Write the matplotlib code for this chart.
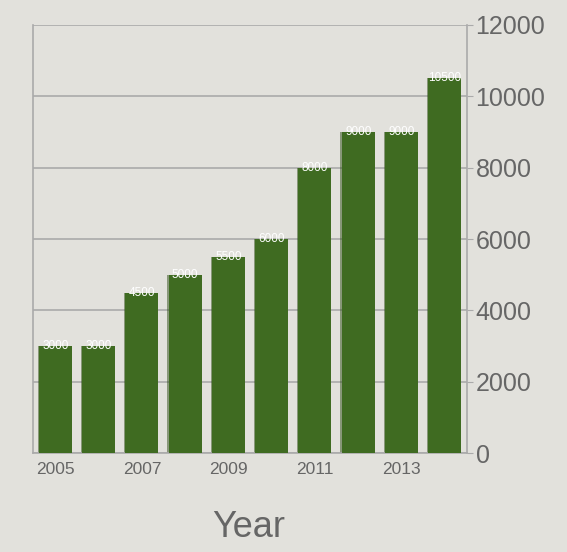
import numpy as np
import matplotlib.pyplot as plt

plt.rcParams["font.family"] = ["Liberation Sans", "DejaVu Sans"]

years = [2005, 2006, 2007, 2008, 2009, 2010, 2011, 2012, 2013, 2014]
values = [3000, 3000, 4500, 5000, 5500, 6000, 8000, 9000, 9000, 10500]
tick_years = [2005, 2007, 2009, 2011, 2013]
y_ticks = [0, 2000, 4000, 6000, 8000, 10000, 12000]

bg = "#e2e1dc"
bar_color = "#3f6b21"
text_gray = "#666666"
line_gray = "#aaaaaa"

fig = plt.figure(figsize=(5.67, 5.52), dpi=100, facecolor=bg)
ax = fig.add_axes([0.058, 0.179, 0.766, 0.776], facecolor=bg)

x = np.arange(len(years))
# faint shadow behind each bar
ax.bar(x - 0.03, values, width=0.76, color="#2f4f18", alpha=0.5, zorder=2)
ax.bar(x, values, width=0.76, color=bar_color, zorder=3)

for xi, v in zip(x, values):
    ax.text(xi, v, f"{v}", ha="center", va="center", color="white",
            fontsize=8.5, zorder=4)

ax.set_xlim(-0.52, len(years) - 0.48)
ax.set_ylim(0, 12000)
ax.set_yticks(y_ticks)
ax.set_yticklabels([str(t) for t in y_ticks])
ax.yaxis.tick_right()
ax.tick_params(axis="y", colors=line_gray, labelcolor=text_gray,
               labelsize=18, length=4, pad=2)
ax.set_xticks([years.index(t) for t in tick_years])
ax.set_xticklabels([str(t) for t in tick_years])
ax.tick_params(axis="x", length=0, labelcolor=text_gray, labelsize=12.5, pad=6)

ax.grid(axis="y", color=line_gray, linewidth=1.2, zorder=1)
for side in ["left", "right", "top", "bottom"]:
    ax.spines[side].set_color(line_gray)
    ax.spines[side].set_linewidth(1.2)
ax.spines["top"].set_visible(False)

fig.text(0.438, 0.012, "Year", ha="center", va="bottom",
         fontsize=26, color=text_gray)

fig.savefig("out.png", dpi=100, facecolor=bg)
